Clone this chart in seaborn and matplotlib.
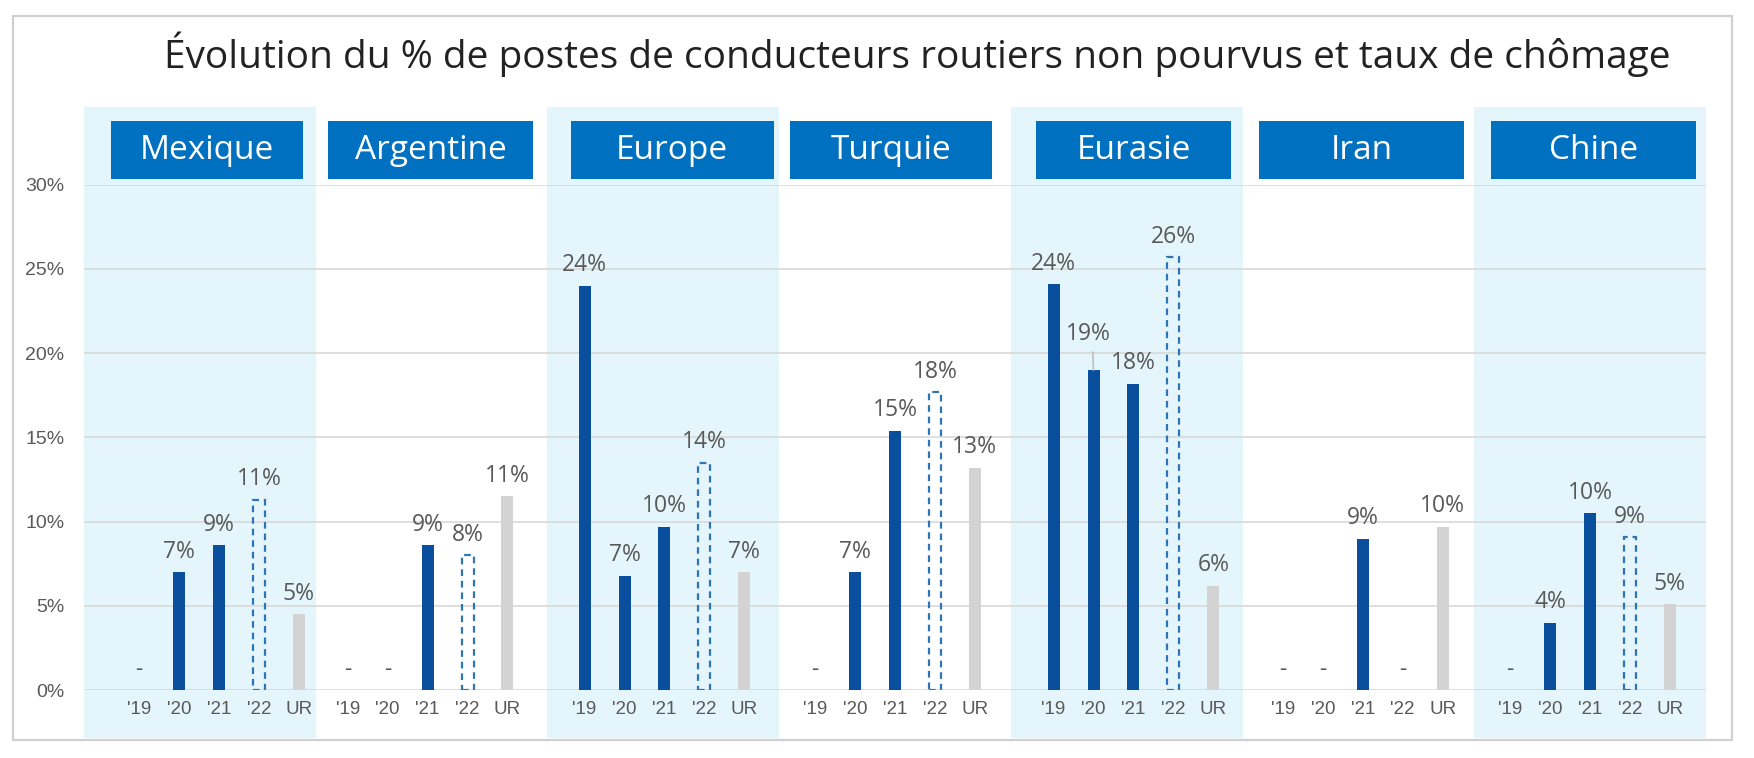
import numpy as np
import pandas as pd
import matplotlib.pyplot as plt
from matplotlib.patches import Rectangle
from matplotlib.transforms import blended_transform_factory
import seaborn as sns

# --- data ---
REGIONS = ["Mexique", "Argentine", "Europe", "Turquie", "Eurasie", "Iran", "Chine"]
YEARS = ["'19", "'20", "'21", "'22", "UR"]
KINDS = ["obs", "obs", "obs", "proj", "ur"]

mexique   = [np.nan, 7.0, 8.6, 11.3, 4.5]
argentine = [np.nan, np.nan, 8.6, 8.0, 11.5]
europe    = [24.0, 6.8, 9.7, 13.5, 7.0]
turquie   = [np.nan, 7.0, 15.4, 17.7, 13.2]
eurasie   = [24.1, 19.0, 18.2, 25.7, 6.2]
iran      = [np.nan, np.nan, 9.0, np.nan, 9.7]
chine     = [np.nan, 4.0, 10.5, 9.1, 5.1]

mexique_lbl   = ["-", "7%", "9%", "11%", "5%"]
argentine_lbl = ["-", "-", "9%", "8%", "11%"]
europe_lbl    = ["24%", "7%", "10%", "14%", "7%"]
turquie_lbl   = ["-", "7%", "15%", "18%", "13%"]
eurasie_lbl   = ["24%", "19%", "18%", "26%", "6%"]
iran_lbl      = ["-", "-", "9%", "-", "10%"]
chine_lbl     = ["-", "4%", "10%", "9%", "5%"]

VALUES = [mexique, argentine, europe, turquie, eurasie, iran, chine]
LABELS = [mexique_lbl, argentine_lbl, europe_lbl, turquie_lbl, eurasie_lbl, iran_lbl, chine_lbl]

Y_TICKS = [0, 5, 10, 15, 20, 25, 30]
TITLE = "Évolution du % de postes de conducteurs routiers non pourvus et taux de chômage"

# --- style / layout ---
DARK = "#0A4E9E"
DASH = "#2E75B6"
GRAY = "#D3D3D3"
BOX = "#0070C0"
SHADE = "#E4F5FC"
TXT = "#595959"
PANEL_W = 5.8
# the source panels are not perfectly regular: per-panel offsets
BAR_START = [1.38, 0.80, 0.93, 0.90, 1.07, 1.01, 0.90]
BOX_START = [0.67, 0.31, 0.59, 0.28, 0.62, 0.42, 0.42]
BOX_WIDTH = [4.82, 5.13, 5.07, 5.04, 4.90, 5.13, 5.13]

plt.rcParams["font.family"] = ["Liberation Sans", "DejaVu Sans"]

rows = []
for i, (reg, vals, lbls) in enumerate(zip(REGIONS, VALUES, LABELS)):
    for k, (yr, v, lb, kind) in enumerate(zip(YEARS, vals, lbls, KINDS)):
        rows.append({"region": reg, "year": yr, "value": v, "label": lb,
                     "kind": kind, "x": i * PANEL_W + BAR_START[i] + k})
df = pd.DataFrame(rows)

fig = plt.figure(figsize=(17.54, 7.58), dpi=100)
ax = fig.add_axes([0.0479, 0.0894, 0.9247, 0.667])

# panel shading
for i in range(0, len(REGIONS), 2):
    ax.axvspan(i * PANEL_W, (i + 1) * PANEL_W, ymin=-0.0945, ymax=1.153,
               color=SHADE, lw=0, zorder=0.2, clip_on=False)

sns.barplot(data=df.dropna(subset=["value"]), x="x", y="value", hue="kind",
            hue_order=["obs", "proj", "ur"],
            palette={"obs": DARK, "proj": DARK, "ur": GRAY},
            native_scale=True, dodge=False, width=0.3, saturation=1,
            legend=False, ax=ax, zorder=2)

proj_x = df.loc[df["kind"] == "proj", "x"].values
for p in ax.patches:
    cx = p.get_x() + p.get_width() / 2
    if np.any(np.isclose(cx, proj_x)):
        p.set_facecolor("none")
        p.set_edgecolor(DASH)
        p.set_linestyle((0, (3, 2.2)))
        p.set_linewidth(1.6)

# value labels
for _, r in df.iterrows():
    y = 0 if np.isnan(r["value"]) else r["value"]
    if r["region"] == "Eurasie" and r["year"] == "'20":
        ax.annotate(r["label"], (r["x"], y), xytext=(-4, 17), textcoords="offset points",
                    ha="center", va="bottom", fontsize=16.5, color=TXT, family="Open Sans",
                    arrowprops=dict(arrowstyle="-", color="#BFBFBF", lw=1.2,
                                    shrinkA=2, shrinkB=0, relpos=(0.6, 0)))
    else:
        ax.annotate(r["label"], (r["x"], y), xytext=(0, 6), textcoords="offset points",
                    ha="center", va="bottom", fontsize=16.5, color=TXT, family="Open Sans")

# header boxes
trans = blended_transform_factory(ax.transData, ax.transAxes)
for i, reg in enumerate(REGIONS):
    x0 = i * PANEL_W + BOX_START[i]
    w = BOX_WIDTH[i]
    ax.add_patch(Rectangle((x0, 1.011), w, 0.115, transform=trans,
                           facecolor=BOX, edgecolor="none", clip_on=False, zorder=3))
    ax.text(x0 + w / 2, 1.068, reg, transform=trans, ha="center", va="center",
            color="white", fontsize=24, family="Open Sans", zorder=4)

ax.set_xlim(0, len(REGIONS) * PANEL_W)
ax.set_ylim(0, 30)
ax.set_xticks(df["x"].values)
ax.set_xticklabels(YEARS * len(REGIONS))
ax.set_yticks(Y_TICKS)
ax.set_yticklabels([f"{t}%" for t in Y_TICKS])
ax.tick_params(axis="x", length=0, pad=8, labelsize=13.5, labelcolor=TXT)
ax.tick_params(axis="y", length=0, pad=14, labelsize=14, labelcolor=TXT)
ax.yaxis.grid(True, color="#D9D9D9", lw=1.2, zorder=0.5)
ax.set_axisbelow(True)
ax.set_xlabel("")
ax.set_ylabel("")
ax.patch.set_visible(False)
for s in ax.spines.values():
    s.set_visible(False)

fig.text(0.523, 0.929, TITLE, ha="center", va="center", fontsize=28,
         family="Open Sans", color="#222222")
fig.add_artist(Rectangle((13 / 1754, 1 - 740 / 758), (1732 - 13) / 1754, (740 - 16) / 758,
                         transform=fig.transFigure, fill=False, edgecolor="#D0D0D0", lw=1.6))

plt.savefig("out.png", dpi=100)
